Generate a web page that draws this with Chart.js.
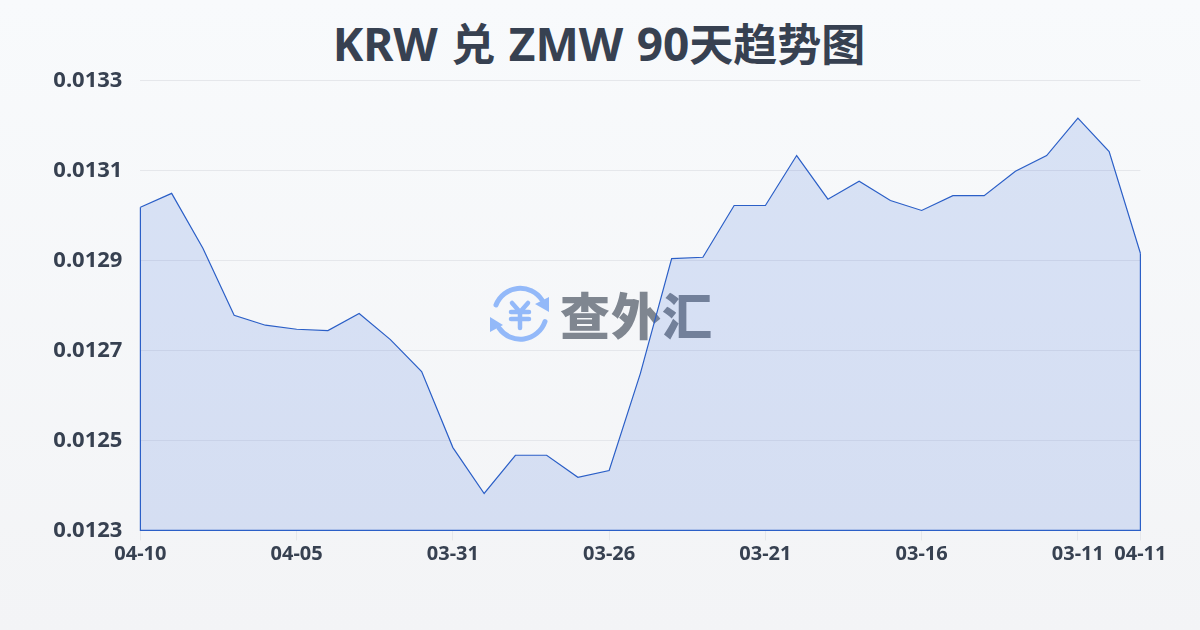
<!DOCTYPE html>
<html lang="zh">
<head>
<meta charset="utf-8">
<title>KRW 兑 ZMW 90天趋势图</title>
<script src="https://cdn.jsdelivr.net/npm/chart.js@4"></script>
<style>
  html, body { margin: 0; padding: 0; }
  body { width: 1200px; height: 630px; overflow: hidden; position: relative; background: linear-gradient(180deg, #f8fafc, #f3f4f6); }
  #heading { position: absolute; left: 0; top: 12px; width: 1198px; margin: 0; text-align: center; white-space: pre; word-spacing: 1.5px; font: 700 46px/60px "Noto Sans", sans-serif; color: #374151; }
  #heading span { font: 700 44px/60px "Noto Sans CJK SC", sans-serif; }
  #logo { position: absolute; left: 485px; top: 280px; }
  #brand { position: absolute; left: 560px; top: 277px; font: 900 50px/72px "Noto Sans CJK SC", sans-serif; letter-spacing: 1px; color: #7f8690; }
  canvas { position: absolute; left: 0; top: 0; }
</style>
</head>
<body>
<h1 id="heading">KRW <span>兑</span> ZMW 90<span>天趋势图</span></h1>
<svg id="logo" width="70" height="70" viewBox="485 280 70 70">
  <g fill="none" stroke="#93b9f9" stroke-width="5" stroke-linecap="round" stroke-linejoin="round">
    <path d="M496 305 A26 26 0 0 1 542 300"/>
    <path d="M545 321.5 A26 26 0 0 1 499 328"/>
    <path stroke-width="4.5" d="M512 303 L520 312 L528 303 M511 312 H529 M511 319 H529 M520 312 V328"/>
  </g>
  <path fill="#93b9f9" d="M549 297 V312 L535 304 Z M490 317 V332 L503 325 Z"/>
</svg>
<div id="brand">查外汇</div>
<canvas id="chart" width="1200" height="630"></canvas>
<script>
const dates = ["04-10","04-09","04-08","04-07","04-06","04-05","04-04","04-03","04-02","04-01","03-31",
  "03-30","03-29","03-28","03-27","03-26","03-25","03-24","03-23","03-22","03-21",
  "03-20","03-19","03-18","03-17","03-16","03-15","03-14","03-13","03-12","03-11","03-10","04-11"];
const rates = [0.013018,0.013049,0.012927,0.012778,0.012756,0.012747,0.012744,0.012782,0.012724,0.012653,0.012484,
  0.012382,0.012467,0.012467,0.012418,0.012433,0.012649,0.012904,0.012907,0.013022,0.013022,
  0.013133,0.013036,0.013076,0.013033,0.013011,0.013044,0.013044,0.013098,0.013133,0.013216,0.013142,0.012916];
const shownDates = ["04-10","04-05","03-31","03-26","03-21","03-16","03-11","04-11"];
const yMin = 0.0123;
const yMax = 0.0133;
const yStep = 0.0002;

const lineColor = "#2b5fc7";
const textColor = "#374151";

// the line runs down both sides and along the bottom too
const closeArea = {
  id: "closeArea",
  afterDatasetsDraw(chart) {
    const x = chart.scales.x, y = chart.scales.y;
    const last = rates.length - 1;
    const ctx = chart.ctx;
    ctx.save();
    ctx.strokeStyle = lineColor;
    ctx.lineWidth = 1.2;
    ctx.beginPath();
    ctx.moveTo(x.getPixelForValue(0), y.getPixelForValue(rates[0]));
    ctx.lineTo(x.getPixelForValue(0), y.getPixelForValue(yMin));
    ctx.lineTo(x.getPixelForValue(last), y.getPixelForValue(yMin));
    ctx.lineTo(x.getPixelForValue(last), y.getPixelForValue(rates[last]));
    ctx.stroke();
    ctx.restore();
  }
};

new Chart(document.getElementById("chart"), {
  type: "line",
  data: {
    labels: dates,
    datasets: [{
      data: rates,
      borderColor: lineColor,
      borderWidth: 1.2,
      backgroundColor: "rgba(40,95,215,0.15)",
      fill: "start",
      pointRadius: 0,
      tension: 0
    }]
  },
  options: {
    responsive: false,
    animation: false,
    layout: { padding: { left: 0, right: 59.6, top: 80.4, bottom: 0 } },
    plugins: {
      legend: { display: false },
      tooltip: { enabled: false }
    },
    scales: {
      x: {
        offset: false,
        afterBuildTicks(scale) {
          scale.ticks = scale.ticks.filter(t => shownDates.includes(dates[t.value]));
        },
        afterFit(scale) { scale.height = 99.6; },
        border: { display: false },
        grid: { drawOnChartArea: false, drawTicks: true, tickLength: 10, tickColor: "#e5e7eb" },
        ticks: {
          autoSkip: false,
          maxRotation: 0,
          padding: 2,
          color: textColor,
          font: { family: "'Noto Sans', sans-serif", size: 20, weight: "700" }
        }
      },
      y: {
        min: yMin,
        max: yMax,
        afterFit(scale) { scale.width = 140.4; },
        border: { display: false },
        grid: { color: "#e5e7eb", lineWidth: 1, drawTicks: false },
        ticks: {
          stepSize: yStep,
          padding: 18,
          color: textColor,
          font: { family: "'Noto Sans', sans-serif", size: 22, weight: "700" },
          callback: v => v.toFixed(4)
        }
      }
    }
  },
  plugins: [closeArea]
});
</script>
</body>
</html>
